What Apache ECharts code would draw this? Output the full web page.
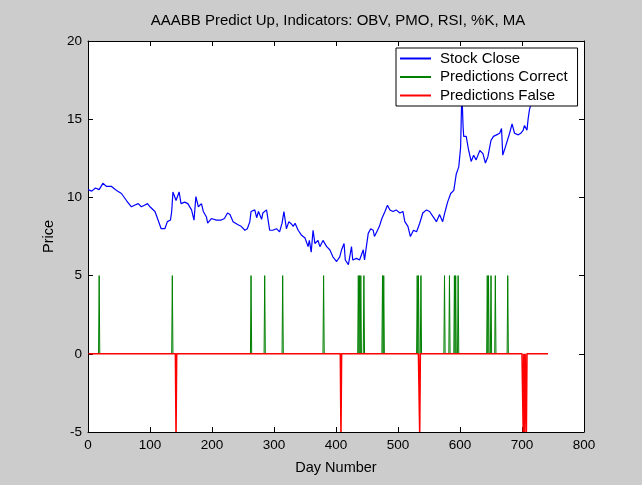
<!DOCTYPE html>
<html>
<head>
<meta charset="UTF-8">
<title>AAABB Predict Up</title>
<script src="https://cdn.jsdelivr.net/npm/echarts@6/dist/echarts.min.js"></script>
<style>
  html, body { margin: 0; padding: 0; background: #cccccc; }
</style>
</head>
<body>
<div id="chart" style="width: 642px; height: 485px;"></div>
<script type="text/javascript">
// stock close (day number / price)
var closeDays = [0, 6, 12, 18, 24, 30, 38, 44, 48, 54, 62, 70, 75, 81, 86, 91, 96, 100, 108, 113,
  118, 124, 128, 133, 135, 137, 142, 147, 150, 156, 161, 167, 171, 174, 178, 183, 186, 191, 193, 199,
  207, 215, 220, 225, 229, 234, 242, 247, 253, 257, 261, 263, 266, 269, 272, 275, 277, 280, 282, 285,
  288, 291, 293, 298, 304, 309, 313, 316, 320, 324, 328, 331, 334, 339, 344, 350, 355, 357, 360, 363,
  366, 371, 374, 379, 385, 390, 395, 401, 406, 409, 413, 415, 420, 425, 427, 433, 438, 444, 446, 449,
  452, 456, 460, 462, 467, 470, 474, 479, 483, 487, 492, 497, 503, 508, 511, 516, 520, 525, 530, 535,
  540, 546, 551, 556, 562, 567, 572, 576, 580, 585, 590, 594, 598, 601, 603, 605, 606, 610, 614, 618,
  622, 626, 632, 637, 641, 645, 650, 654, 659, 664, 667, 669, 673, 676, 680, 684, 688, 694, 698, 702,
  704, 708, 710, 712, 716, 722, 728, 735, 742];
var closePrice = [10.5, 10.4, 10.6, 10.5, 10.9, 10.7, 10.7, 10.5, 10.4, 10.25, 9.8, 9.4, 9.5, 9.6, 9.4, 9.5, 9.6, 9.4, 9.1, 8.55,
  8.0, 8.0, 8.45, 8.55, 9.1, 10.35, 9.8, 10.35, 9.6, 9.7, 9.6, 9.2, 8.55, 10.05, 9.4, 9.6, 9.1, 8.75, 8.35, 8.65,
  8.55, 8.55, 8.65, 9.0, 8.9, 8.45, 8.25, 8.15, 7.9, 8.0, 8.45, 9.1, 9.2, 9.2, 8.7, 9.1, 9.2, 8.6, 9.0, 9.1,
  9.2, 9.3, 7.9, 7.9, 8.0, 7.8, 8.35, 9.1, 8.0, 8.45, 8.3, 8.15, 8.35, 7.9, 7.6, 7.4, 6.85, 7.25, 6.5, 7.9,
  7.05, 7.25, 6.85, 7.25, 6.85, 6.65, 6.2, 5.9, 6.2, 6.65, 7.05, 6.0, 5.7, 6.85, 6.0, 6.1, 6.0, 6.65, 6.0, 6.85,
  7.7, 8.0, 7.9, 7.5, 7.9, 8.15, 8.65, 9.1, 9.5, 9.2, 9.1, 9.2, 9.0, 9.1, 8.45, 8.15, 7.5, 7.9, 7.8, 8.35,
  9.0, 9.2, 9.1, 8.8, 8.45, 8.9, 8.45, 9.1, 9.7, 10.25, 10.45, 11.5, 11.95, 13.2, 16.8, 14.5, 13.9, 13.9, 13.0, 12.3,
  12.7, 12.4, 13.0, 12.8, 12.2, 12.6, 13.65, 13.9, 14.0, 14.1, 14.4, 12.7, 13.2, 13.2, 14.1, 14.7, 14.1, 14.0, 14.1, 14.3,
  14.6, 14.3, 15.05, 15.6, 16.2, 16.8, 17.2, 17.6, 17.9];

// days where the prediction was correct / false
var correctDays = [18, 136, 263, 285, 314, 380, 436, 438, 440, 445, 475, 477, 531, 533, 537,
  575, 583, 591, 593, 597, 644, 646, 650, 657, 677];
var falseDays = [142, 408, 535, 702, 704, 707];
var lastDay = 742;
var correctValue = 5;
var falseValue = -5;

var xTicks = [0, 800, 100];
var yTicks = [-5, 20, 5];

var closeData = [];
for (var i = 0; i < closeDays.length; i++) {
  closeData.push([closeDays[i], closePrice[i]]);
}
// green: only the spikes (its zero part sits under the red line anyway)
var correctData = [];
for (var j = 0; j < correctDays.length; j++) {
  var c = correctDays[j];
  correctData.push([c - 1, 0], [c, correctValue], [c + 1, 0], [c + 1, null]);
}
// red: 0 every day, spike down on false days
var falseData = [];
for (var d = 1; d <= lastDay; d++) {
  falseData.push([d, falseDays.indexOf(d) >= 0 ? falseValue : 0]);
}

var font = 'Liberation Sans, Arial, sans-serif';
var black = '#000';

function xAxis(pos, main) {
  return {
    type: 'value', position: pos, min: xTicks[0], max: xTicks[1], interval: xTicks[2],
    name: main ? 'Day Number' : '', nameLocation: 'middle', nameGap: 28,
    nameTextStyle: { color: black, fontFamily: font, fontSize: 14.5 },
    axisLine: { show: true, onZero: false, lineStyle: { color: black, width: 1 } },
    axisTick: { show: true, inside: true, length: 5, lineStyle: { color: black } },
    axisLabel: { show: main, color: black, fontFamily: font, fontSize: 13.5, margin: 6 },
    splitLine: { show: false }
  };
}
function yAxis(pos, main) {
  return {
    type: 'value', position: pos, min: yTicks[0], max: yTicks[1], interval: yTicks[2],
    name: main ? 'Price' : '', nameLocation: 'middle', nameGap: 29, nameRotate: 90,
    nameTextStyle: { color: black, fontFamily: font, fontSize: 14.5 },
    axisLine: { show: true, onZero: false, lineStyle: { color: black, width: 1 } },
    axisTick: { show: true, inside: true, length: 5, lineStyle: { color: black } },
    axisLabel: { show: main, color: black, fontFamily: font, fontSize: 13.5, margin: 6 },
    splitLine: { show: false }
  };
}

var myChart = echarts.init(document.getElementById('chart'));
var option = {
  backgroundColor: '#cccccc',
  animation: false,
  title: {
    text: 'AAABB Predict Up, Indicators: OBV, PMO, RSI, %K, MA',
    left: 333, top: 8, textAlign: 'center',
    textStyle: { color: black, fontFamily: font, fontSize: 15, fontWeight: 'normal' }
  },
  legend: {
    orient: 'vertical', left: 396, top: 48,
    padding: [3, 10, 3, 4], itemGap: 3.5, itemWidth: 31, itemHeight: 2,
    backgroundColor: '#fff', borderColor: black, borderWidth: 1,
    icon: 'rect',
    textStyle: { color: black, fontFamily: font, fontSize: 15, padding: [0, 0, 0, 4] },
    data: ['Stock Close', 'Predictions Correct', 'Predictions False']
  },
  grid: {
    left: 88, right: 58, top: 41, bottom: 53,
    show: true, backgroundColor: '#fff', borderWidth: 0
  },
  xAxis: [xAxis('bottom', true), xAxis('top', false)],
  yAxis: [yAxis('left', true), yAxis('right', false)],
  series: [
    { name: 'Stock Close', type: 'line', data: closeData, showSymbol: false,
      itemStyle: { color: '#0000ff' }, lineStyle: { color: '#0000ff', width: 1.2 } },
    { name: 'Predictions Correct', type: 'line', data: correctData, showSymbol: false,
      connectNulls: false,
      itemStyle: { color: '#008000' }, lineStyle: { color: '#008000', width: 1 } },
    { name: 'Predictions False', type: 'line', data: falseData, showSymbol: false, z: 3,
      itemStyle: { color: '#ff0000' }, lineStyle: { color: '#ff0000', width: 1.6 } }
  ]
};
myChart.setOption(option);
</script>
</body>
</html>
